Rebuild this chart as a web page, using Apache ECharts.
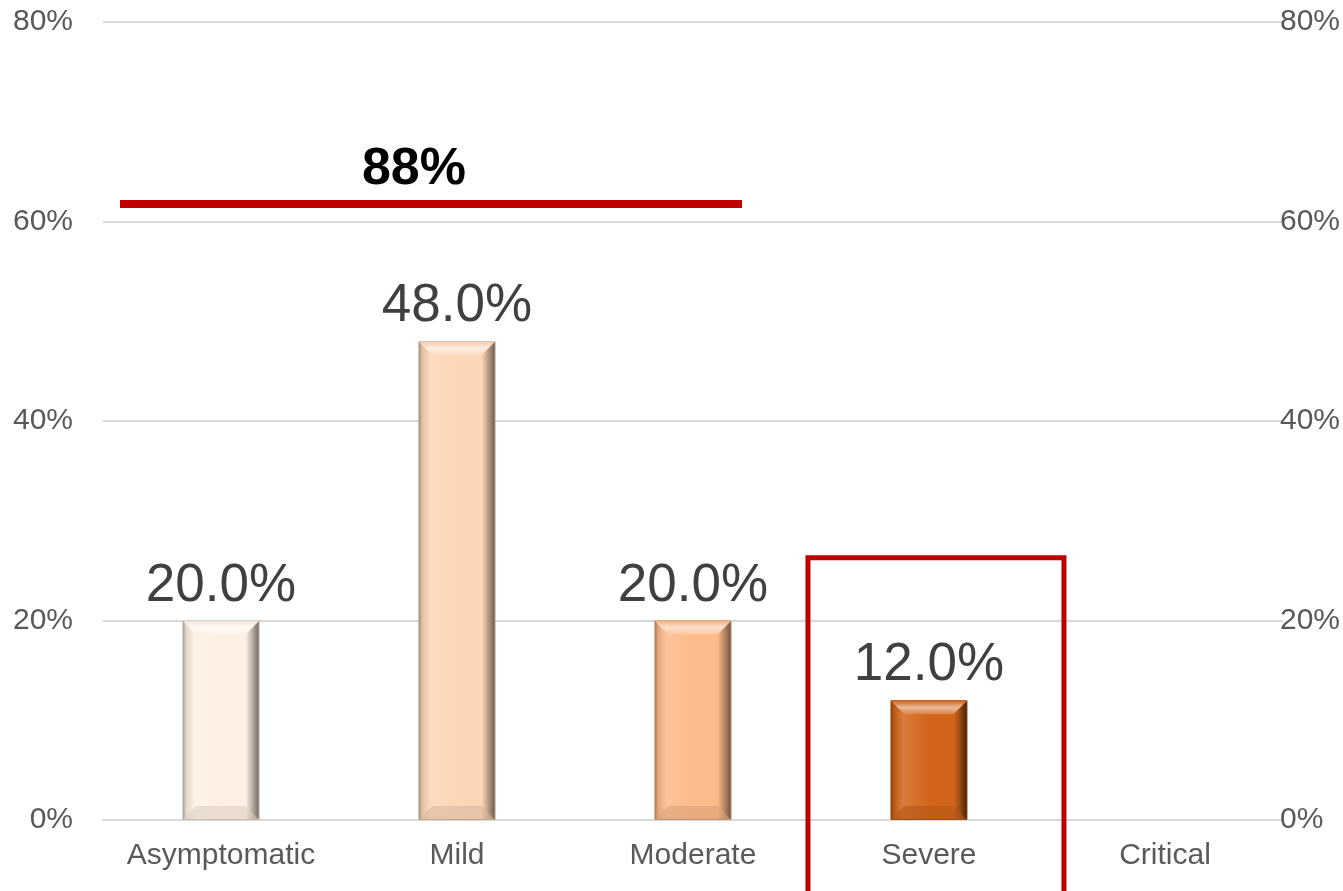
<!DOCTYPE html>
<html>
<head>
<meta charset="utf-8">
<script src="https://cdn.jsdelivr.net/npm/echarts@6/dist/echarts.min.js"></script>
<style>html,body{margin:0;padding:0;background:#fff}#c{width:1343px;height:891px}</style>
</head>
<body>
<div id="c"></div>
<script>
const categories = ['Asymptomatic', 'Mild', 'Moderate', 'Severe', 'Critical'];
const values = [20.0, 48.0, 20.0, 12.0, null];
const barColors = ['#FEF0E3', '#FCD6B6', '#FDBA8A', '#D26419', '#B04A10'];
const edgeColors = ['#6e625a', '#6b5646', '#6b5040', '#3a1e08', '#3a1e08'];
const yTicks = [0, 20, 40, 60, 80];
const bracketLabel = '88%';
const bracketValue = 61.75;

function lighten(hex, amt) {
  const n = parseInt(hex.slice(1), 16);
  let r = (n >> 16) & 255, g = (n >> 8) & 255, b = n & 255;
  r = Math.round(r + (255 - r) * amt); g = Math.round(g + (255 - g) * amt); b = Math.round(b + (255 - b) * amt);
  return 'rgb(' + r + ',' + g + ',' + b + ')';
}
function darken(hex, amt) {
  const n = parseInt(hex.slice(1), 16);
  let r = (n >> 16) & 255, g = (n >> 8) & 255, b = n & 255;
  return 'rgb(' + Math.round(r * (1 - amt)) + ',' + Math.round(g * (1 - amt)) + ',' + Math.round(b * (1 - amt)) + ')';
}

const chart = echarts.init(document.getElementById('c'));
const barData = values.map((v, i) => ({
  value: v,
  itemStyle: {
    color: {
      type: 'linear', x: 0, y: 0, x2: 1, y2: 0,
      colorStops: [
        { offset: 0, color: darken(barColors[i], 0.35) },
        { offset: 0.05, color: darken(barColors[i], 0.1) },
        { offset: 0.16, color: lighten(barColors[i], 0.15) },
        { offset: 0.5, color: barColors[i] },
        { offset: 0.82, color: barColors[i] },
        { offset: 0.9, color: darken(barColors[i], 0.25) },
        { offset: 1, color: edgeColors[i] }
      ]
    },
    borderColor: darken(barColors[i], 0.3),
    borderWidth: 1
  }
}));

const axisLabelStyle = { fontFamily: 'Liberation Sans, Arial, sans-serif', fontSize: 30, color: '#595959' };

const option = {
  animation: false,
  backgroundColor: '#ffffff',
  grid: { left: 103, right: 60, top: 22, bottom: 71, containLabel: false },
  xAxis: {
    type: 'category',
    data: categories,
    axisLine: { show: true, lineStyle: { color: '#d9d9d9', width: 2 } },
    axisTick: { show: false },
    axisLabel: Object.assign({ margin: 21, interval: 0 }, axisLabelStyle)
  },
  yAxis: [
    {
      type: 'value', min: 0, max: 80, interval: 20,
      axisLine: { show: false }, axisTick: { show: false },
      splitLine: { lineStyle: { color: '#d9d9d9', width: 2 } },
      axisLabel: Object.assign({ margin: 30, formatter: v => v + '%' }, axisLabelStyle)
    },
    {
      type: 'value', min: 0, max: 80, interval: 20, position: 'right',
      axisLine: { show: false }, axisTick: { show: false },
      splitLine: { show: false },
      axisLabel: Object.assign({ margin: -3, padding: [0, 0, 8, 0], formatter: v => v + '%' }, axisLabelStyle)
    }
  ],
  series: [
    {
      type: 'bar',
      data: barData,
      barWidth: 77,
      label: {
        show: true, position: 'top', distance: 8,
        fontFamily: 'Liberation Sans, Arial, sans-serif', fontSize: 53, color: '#404040',
        formatter: p => p.value == null ? '' : p.value.toFixed(1) + '%'
      },
      z: 2
    }
  ]
};
chart.setOption(option);

function drawAnnotations() {
  const yLine = chart.convertToPixel({ yAxisIndex: 0 }, bracketValue);
  const xA = chart.convertToPixel({ xAxisIndex: 0 }, categories[0]);
  const xM = chart.convertToPixel({ xAxisIndex: 0 }, categories[2]);
  const xS = chart.convertToPixel({ xAxisIndex: 0 }, categories[3]);
  const yBox = chart.convertToPixel({ yAxisIndex: 0 }, 26.3);
  const bevels = [];
  values.forEach((v, i) => {
    if (v == null) return;
    const cx = chart.convertToPixel({ xAxisIndex: 0 }, categories[i]);
    const ty = chart.convertToPixel({ yAxisIndex: 0 }, v);
    const by = chart.convertToPixel({ yAxisIndex: 0 }, 0);
    const w = 77, b = 14;
    bevels.push({
      type: 'polygon', z: 10, silent: true,
      shape: { points: [[cx - w / 2, ty], [cx + w / 2, ty], [cx + w / 2 - b, ty + b], [cx - w / 2 + b, ty + b]] },
      style: { fill: { type: 'linear', x: 0, y: 0, x2: 0, y2: 1, colorStops: [
        { offset: 0, color: darken(barColors[i], 0.05) },
        { offset: 0.5, color: lighten(barColors[i], 0.55) },
        { offset: 1, color: lighten(barColors[i], 0.2) }] } }
    });
    bevels.push({
      type: 'polygon', z: 10, silent: true,
      shape: { points: [[cx - w / 2, by], [cx + w / 2, by], [cx + w / 2 - b, by - b], [cx - w / 2 + b, by - b]] },
      style: { fill: darken(barColors[i], 0.15), opacity: 0.55 }
    });
  });
  chart.setOption({
    graphic: bevels.concat([
      {
        type: 'rect', z: 20,
        shape: { x: xA - 101, y: yLine - 4, width: (xM + 49) - (xA - 101), height: 8 },
        style: { fill: '#C00000' }
      },
      {
        type: 'text', z: 20,
        style: {
          text: bracketLabel, x: (xA - 101 + xM + 49) / 2 - 17, y: yLine - 8,
          align: 'center', verticalAlign: 'bottom',
          font: 'bold 52px "Liberation Sans", Arial, sans-serif', fill: '#000000'
        }
      },
      {
        type: 'rect', z: 20,
        shape: { x: xS - 121, y: yBox, width: 256, height: 400 },
        style: { fill: 'none', stroke: '#C00000', lineWidth: 5 }
      }
    ])
  });
}
drawAnnotations();
</script>
</body>
</html>
